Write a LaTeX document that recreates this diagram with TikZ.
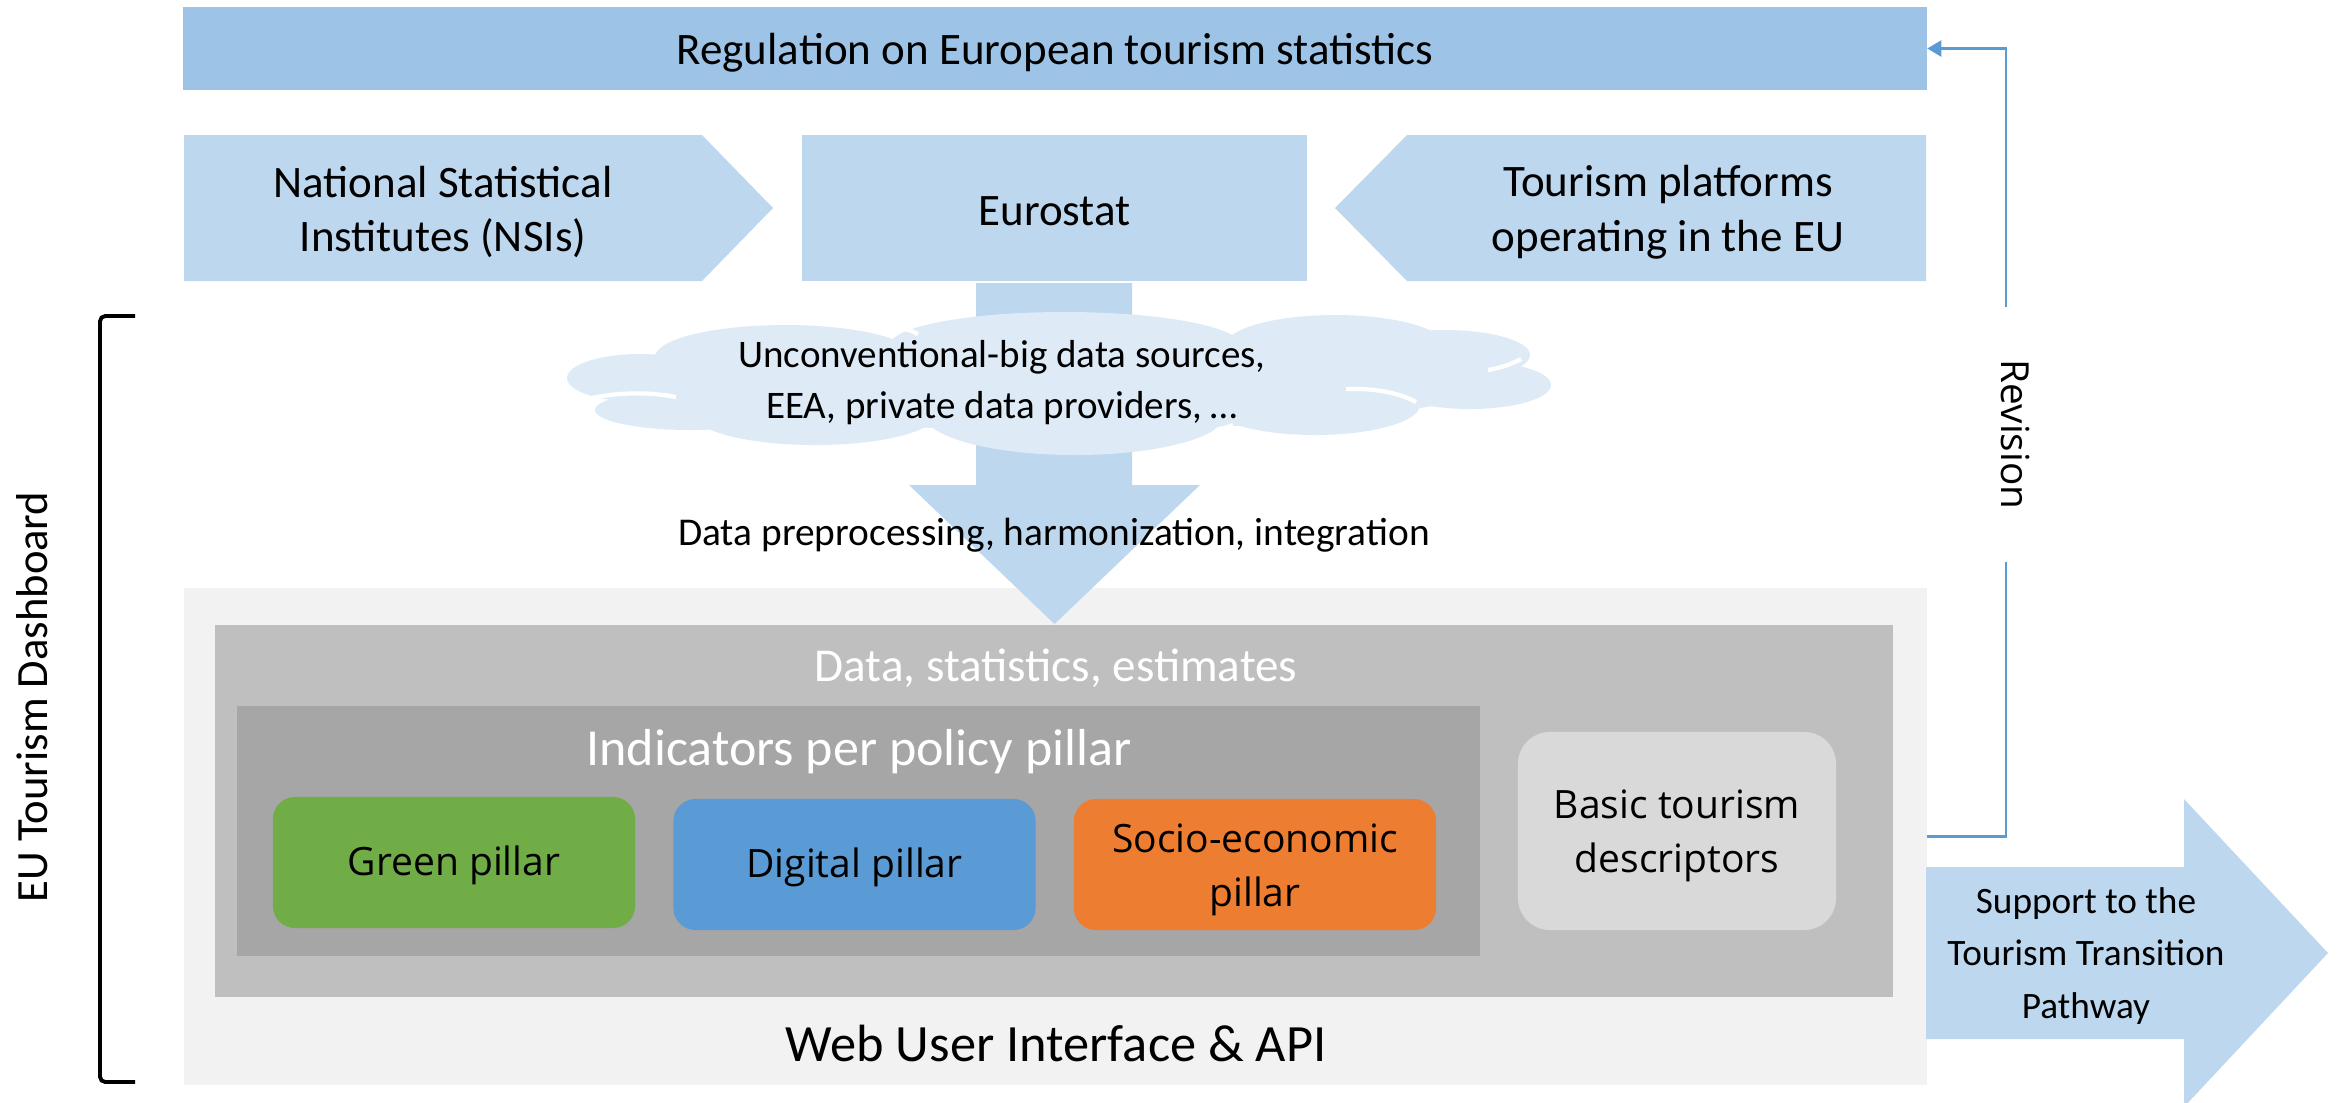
\documentclass[tikz,border=0pt]{standalone}
\usepackage{fontspec}
\setmainfont{Carlito}
\newfontfamily\segoe{Open Sans}
\usetikzlibrary{positioning, shapes, arrows.meta}

\definecolor{barblue}{HTML}{9DC3E6}
\definecolor{srcblue}{HTML}{BDD7EE}
\definecolor{cloudblue}{HTML}{DEEBF7}
\definecolor{revblue}{HTML}{5B9BD5}
\definecolor{webgray}{HTML}{F2F2F2}
\definecolor{datagray}{HTML}{BFBFBF}
\definecolor{indicgray}{HTML}{A6A6A6}
\definecolor{descgray}{HTML}{D9D9D9}
\definecolor{greenpil}{HTML}{70AD47}
\definecolor{digitalpil}{HTML}{5B9BD5}
\definecolor{sociopil}{HTML}{ED7D31}

\newcommand\sizeregul{\fontsize{12.8}{15}\selectfont}
\newcommand\sizesrc{\fontsize{12.8}{15.5}\selectfont}
\newcommand\sizecloud{\fontsize{11.1}{14.5}\selectfont}
\newcommand\sizeprep{\fontsize{11.2}{13}\selectfont}
\newcommand\sizedata{\fontsize{13.4}{16}\selectfont}
\newcommand\sizeindic{\fontsize{14.8}{18}\selectfont}
\newcommand\sizeweb{\fontsize{14.9}{18}\selectfont}
\newcommand\sizepillar{\segoe\fontsize{11.1}{15.4}\selectfont}
\newcommand\sizesupport{\fontsize{10.6}{14.8}\selectfont}
\newcommand\sizedash{\fontsize{12.7}{16}\selectfont}
\newcommand\sizerev{\segoe\fontsize{11}{13}\selectfont}

\tikzset{
    box/.style={rectangle, inner sep=0pt, draw=none},
    pillar/.style={rectangle, rounded corners=0.22cm, inner sep=0pt, minimum width=3.62cm, minimum height=1.31cm},
    pillartext/.style={align=center, font=\sizepillar},
    puff/.style={fill=cloudblue},
    puffline/.style={draw=white, line width=1.2pt},
    revline/.style={draw=revblue, line width=0.8pt},
    bracket/.style={line width=1.1pt, rounded corners=1.5pt}
}

\begin{document}
\begin{tikzpicture}[x=0.01cm, y=-0.01cm, >={Triangle[length=4pt,width=4.5pt]}]
        \useasboundingbox (0,0) rectangle (2341,1102);

        % regulation
        \node at (1055,48.5) [box, fill=barblue, minimum width=17.42cm, minimum height=0.83cm] (regbar) {};
        \node at (1055,53) [font=\sizeregul] (reglbl) {Regulation on European tourism statistics};

        % sources
        \fill[srcblue] (184,135) -- (702,135) -- (773,208) -- (702,281) -- (184,281) -- cycle;
        \node at (443,212) [align=center, font=\sizesrc] (nsi) {National Statistical\\Institutes (NSIs)};
        \node at (1054.5,208) [box, fill=srcblue, minimum width=5.05cm, minimum height=1.46cm] (eurostat) {};
        \node at (1054.5,211) [font=\sizesrc] (eurolbl) {Eurostat};
        \fill[srcblue] (1926,135) -- (1407,135) -- (1335,208) -- (1407,281) -- (1926,281) -- cycle;
        \node at (1668,212) [align=center, font=\sizesrc] (platforms) {Tourism platforms\\operating in the EU};

        % dashboard
        \node at (1055.5,836.5) [box, fill=webgray, minimum width=17.41cm, minimum height=4.97cm] (webui) {};
        \node at (1054,811) [box, fill=datagray, minimum width=16.78cm, minimum height=3.72cm] (datastats) {};
        \node at (858.5,831) [box, fill=indicgray, minimum width=12.43cm, minimum height=2.50cm] (indicators) {};
        \node at (1056,668) [text=white, font=\sizedata] (datalbl) {Data, statistics, estimates};
        \node at (859,752) [text=white, font=\sizeindic] (indiclbl) {Indicators per policy pillar};
        \node at (1056,1043) [font=\sizeweb] (weblbl) {Web User Interface \& API};

        \node at (454,862.5) [pillar, fill=greenpil] (green) {};
        \node at (854.5,864.5) [pillar, fill=digitalpil] (digital) {};
        \node at (1255,864.5) [pillar, fill=sociopil] (socio) {};
        \node at (1677,831) [box, rounded corners=0.32cm, fill=descgray, minimum width=3.18cm, minimum height=1.98cm] (basic) {};
        \node at (454,865.5) [pillartext] (greenlbl) {Green pillar};
        \node at (854.5,867.5) [pillartext] (digitallbl) {Digital pillar};
        \node at (1255,869.5) [pillartext] (sociolbl) {Socio-economic\\pillar};
        \node at (1677,836) [pillartext] (basiclbl) {Basic tourism\\descriptors};

        % flow down from eurostat
        \fill[srcblue] (976,283) -- (1132,283) -- (1132,485) -- (1200,485) -- (1054.5,624) -- (909,485) -- (976,485) -- cycle;
        \fill[puff] (640,378) ellipse [x radius=73, y radius=24];
        \fill[puff] (690,410) ellipse [x radius=95, y radius=20];
        \fill[puff] (815,415) ellipse [x radius=120, y radius=30];
        \fill[puff] (1075,415) ellipse [x radius=150, y radius=40];
        \fill[puff] (1315,405) ellipse [x radius=105, y radius=30];
        \fill[puff] (1470,385) ellipse [x radius=81, y radius=24];
        \fill[puff] (1445,355) ellipse [x radius=85, y radius=25];
        \fill[puff] (1335,346) ellipse [x radius=110, y radius=31];
        \fill[puff] (1065,345) ellipse [x radius=175, y radius=33];
        \fill[puff] (785,357) ellipse [x radius=130, y radius=32];
        \fill[puff] (1060,385) ellipse [x radius=420, y radius=45];
        \draw[puffline] (592,398) .. controls (620,392) and (650,392) .. (676,397);
        \draw[puffline] (891,326) .. controls (900,327) and (910,330) .. (918,334);
        \draw[puffline] (1346,389) .. controls (1375,388) and (1400,393) .. (1416,402);
        \draw[puffline] (1488,370) .. controls (1500,368) and (1512,364) .. (1521,359);
        \draw[puffline] (928,434) .. controls (936,436) and (945,439) .. (955,441);
        \draw[puffline] (1216,430) .. controls (1222,429) and (1228,427) .. (1233,425);
        \node at (1002,383) [align=center, font=\sizecloud] (bigdatalbl) {Unconventional-big data sources,\\EEA, private data providers, \dots};
        \node at (1054,535) [font=\sizeprep] (preplbl) {Data preprocessing, harmonization, integration};

        % support arrow
        \fill[srcblue] (1926,867) -- (2184,867) -- (2184,799) -- (2328,953) -- (2184,1107) -- (2184,1039) -- (1926,1039) -- cycle;
        \node at (2086,956) [align=center, font=\sizesupport] (support) {Support to the\\Tourism Transition\\Pathway};

        % revision loop
        \node at (2015,434.5) [rotate=-90, font=\sizerev] (revlbl) {Revision};
        \coordinate (revlow) at (2006,562);
        \coordinate (revhigh) at (2006,307);
        \draw[revline] (webui.east) -| (revlow);
        \draw[revline, ->] (revhigh) |- (regbar.east);

        % dashboard bracket
        \coordinate (dashtop) at (135,316);
        \coordinate (dashbot) at (135,1082);
        \draw[bracket] (dashtop) -- ++(-35,0) -- ++(0,766) -- (dashbot);
        \node at (32,697) [rotate=90, font=\sizedash] (dashlbl) {EU Tourism Dashboard};
    \end{tikzpicture}
\end{document}
